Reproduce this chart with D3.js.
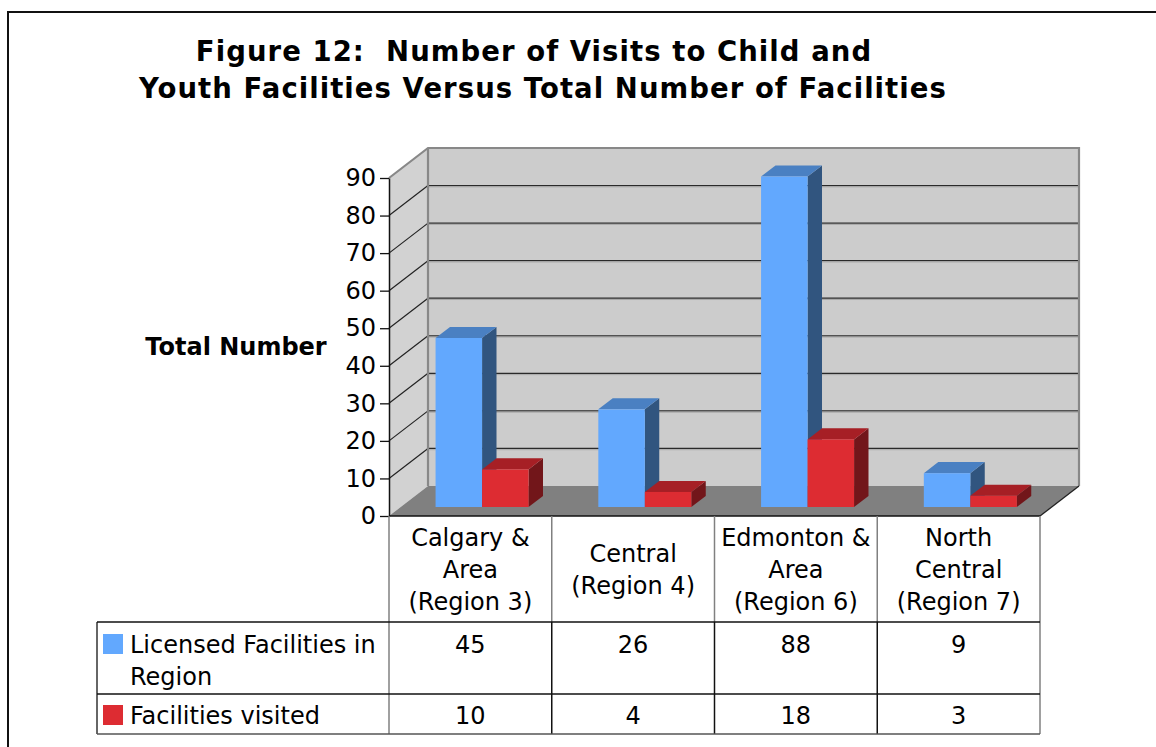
<!DOCTYPE html>
<html>
<head>
<meta charset="utf-8">
<script src="https://cdn.jsdelivr.net/npm/d3@7"></script>
<style>
  html, body { margin: 0; padding: 0; background: #ffffff; }
  svg { display: block; font-family: "DejaVu Sans", Verdana, sans-serif; }
</style>
</head>
<body>
<svg id="chart" width="1156" height="747"></svg>
<script>
// ---- data ----
const categories = ["Calgary &\nArea\n(Region 3)", "Central\n(Region 4)", "Edmonton &\nArea\n(Region 6)", "North\nCentral\n(Region 7)"];
const seriesNames = ["Licensed Facilities in\nRegion", "Facilities visited"];
const licensed = [45, 26, 88, 9];
const visited = [10, 4, 18, 3];
const yTicks = [0, 10, 20, 30, 40, 50, 60, 70, 80, 90];
const titleLines = ["Figure 12:  Number of Visits to Child and", "Youth Facilities Versus Total Number of Facilities"];
const yTitle = "Total Number";

const seriesValues = [licensed, visited];
const palette = [
  { front: "#62a8fe", top: "#4a80c2", side: "#31557f" },
  { front: "#dd2c32", top: "#a61f25", side: "#72161a" }
];
const FONT_SIZE = 24;

// ---- layout ----
const svg = d3.select("#chart");
const plotLeft = 389, plotRight = 1040, floorY = 516, topY = 178;
const DX = 39, DY = 30;            // perspective offset of the back wall
const barNear = 0.3, barFar = 0.67; // bar depth as a fraction of the floor depth

const x0 = d3.scaleBand().domain(categories).range([plotLeft, plotRight])
  .paddingInner(0.4286).paddingOuter(0.2143);
const x1 = d3.scaleBand().domain(seriesNames).range([0, x0.bandwidth()]);
const y = d3.scaleLinear().domain([0, 90]).range([floorY, topY]);

// outer frame
svg.append("rect").attr("x", 8).attr("y", 12).attr("width", 1160).attr("height", 760)
  .attr("fill", "none").attr("stroke", "#111").attr("stroke-width", 2);

// title
svg.append("g").selectAll("text").data(titleLines).join("text")
  .attr("x", (d, i) => i === 0 ? 534 : 543)
  .attr("y", (d, i) => 61 + i * 36.5)
  .attr("text-anchor", "middle")
  .attr("font-weight", "bold").attr("font-size", 27.5).attr("letter-spacing", 1.05)
  .attr("fill", "#000")
  .style("white-space", "pre")
  .text(d => d);

// side wall
svg.append("path")
  .attr("d", `M${plotLeft},${y(90)} L${plotLeft + DX},${y(90) - DY} L${plotLeft + DX},${floorY - DY} L${plotLeft},${floorY} Z`)
  .attr("fill", "#d2d2d2");
// back wall
svg.append("rect")
  .attr("x", plotLeft + DX).attr("y", y(90) - DY)
  .attr("width", plotRight - plotLeft).attr("height", floorY - y(90))
  .attr("fill", "#cccccc");
// floor
svg.append("path")
  .attr("d", `M${plotLeft},${floorY} L${plotLeft + DX},${floorY - DY} L${plotRight + DX},${floorY - DY} L${plotRight},${floorY} Z`)
  .attr("fill", "#808080");

// gridlines on back wall and side wall
const gridVals = yTicks.filter(v => v > 0 && v < 90);
const grid = svg.append("g");
grid.selectAll("line.back").data(gridVals).join("line").attr("class", "back")
  .attr("x1", plotLeft + DX).attr("x2", plotRight + DX)
  .attr("y1", v => y(v) - DY).attr("y2", v => y(v) - DY)
  .attr("stroke", "#2a2a2a").attr("stroke-width", 1.2);
grid.selectAll("line.backhi").data(gridVals).join("line").attr("class", "backhi")
  .attr("x1", plotLeft + DX).attr("x2", plotRight + DX)
  .attr("y1", v => y(v) - DY + 1.3).attr("y2", v => y(v) - DY + 1.3)
  .attr("stroke", "#a8a8a8").attr("stroke-width", 1);
grid.selectAll("line.side").data(gridVals).join("line").attr("class", "side")
  .attr("x1", plotLeft).attr("x2", plotLeft + DX)
  .attr("y1", v => y(v)).attr("y2", v => y(v) - DY)
  .attr("stroke", "#222").attr("stroke-width", 1.2);

// wall borders
svg.append("path")
  .attr("d", `M${plotLeft},${y(90)} L${plotLeft + DX},${y(90) - DY} L${plotRight + DX},${y(90) - DY} L${plotRight + DX},${floorY - DY}`)
  .attr("fill", "none").attr("stroke", "#888").attr("stroke-width", 2.2);
svg.append("line")
  .attr("x1", plotLeft + DX).attr("x2", plotLeft + DX)
  .attr("y1", y(90) - DY).attr("y2", floorY - DY)
  .attr("stroke", "#888").attr("stroke-width", 2.2);
svg.append("line")
  .attr("x1", plotRight).attr("y1", floorY).attr("x2", plotRight + DX).attr("y2", floorY - DY)
  .attr("stroke", "#222").attr("stroke-width", 1.3);

// 3D bars
const bars = [];
categories.forEach((c, ci) => {
  seriesNames.forEach((s, si) => {
    bars.push({ c, s, si, v: seriesValues[si][ci] });
  });
});
const ox = barNear * DX, oy = -barNear * DY;
const dx = (barFar - barNear) * DX, dy = (barFar - barNear) * DY;
const barG = svg.append("g").selectAll("g").data(bars).join("g");
barG.each(function (d) {
  const g = d3.select(this);
  const xl = x0(d.c) + x1(d.s) + ox;
  const xr = xl + x1.bandwidth();
  const yb = y(0) + oy, yt = y(d.v) + oy;
  const col = palette[d.si];
  g.append("path") // side face
    .attr("d", `M${xr},${yt} L${xr + dx},${yt - dy} L${xr + dx},${yb - dy} L${xr},${yb} Z`)
    .attr("fill", col.side);
  g.append("path") // top face
    .attr("d", `M${xl},${yt} L${xl + dx},${yt - dy} L${xr + dx},${yt - dy} L${xr},${yt} Z`)
    .attr("fill", col.top);
  g.append("rect") // front face
    .attr("x", xl).attr("y", yt).attr("width", xr - xl).attr("height", yb - yt)
    .attr("fill", col.front);
});

// y axis
const axis = svg.append("g").attr("transform", `translate(${plotLeft},0)`)
  .call(d3.axisLeft(y).tickValues(yTicks).tickSize(9).tickSizeOuter(0).tickPadding(4));
axis.select(".domain").attr("stroke", "#111").attr("stroke-width", 1.5);
axis.selectAll(".tick line").attr("stroke", "#111").attr("stroke-width", 1.3);
axis.selectAll(".tick text").attr("font-size", FONT_SIZE).attr("fill", "#000")
  .attr("font-family", "DejaVu Sans, Verdana, sans-serif");

// floor front edge
svg.append("line").attr("x1", plotLeft).attr("x2", plotRight).attr("y1", floorY).attr("y2", floorY)
  .attr("stroke", "#111").attr("stroke-width", 1.5);

// axis title
svg.append("text").attr("x", 236).attr("y", 355).attr("text-anchor", "middle")
  .attr("font-weight", "bold").attr("font-size", FONT_SIZE).text(yTitle);

// ---- data table ----
const tableLeft = 97, headBottom = 622, row1Bottom = 694, row2Bottom = 734;
const table = svg.append("g");
const step = x0.step();

// header vertical lines
table.selectAll("line.hv").data(d3.range(categories.length + 1)).join("line").attr("class", "hv")
  .attr("x1", i => plotLeft + i * step).attr("x2", i => plotLeft + i * step)
  .attr("y1", floorY).attr("y2", headBottom)
  .attr("stroke", "#808080").attr("stroke-width", 1.5);
// body vertical lines
table.selectAll("line.bv").data(d3.range(categories.length + 1)).join("line").attr("class", "bv")
  .attr("x1", i => plotLeft + i * step).attr("x2", i => plotLeft + i * step)
  .attr("y1", headBottom).attr("y2", row2Bottom)
  .attr("stroke", (d, i) => (i === 0 || i === categories.length) ? "#808080" : "#111")
  .attr("stroke-width", 1.5);
table.append("line").attr("x1", tableLeft).attr("x2", tableLeft).attr("y1", headBottom).attr("y2", row2Bottom)
  .attr("stroke", "#333").attr("stroke-width", 1.5);
table.selectAll("line.h").data([headBottom, row1Bottom, row2Bottom]).join("line").attr("class", "h")
  .attr("x1", tableLeft).attr("x2", plotRight).attr("y1", d => d).attr("y2", d => d)
  .attr("stroke", (d, i) => i === 2 ? "#555" : "#111").attr("stroke-width", 1.5);

// category labels
table.selectAll("text.cat").data(categories).join("text").attr("class", "cat")
  .attr("text-anchor", "middle").attr("font-size", FONT_SIZE).attr("fill", "#000")
  .each(function (c) {
    const lines = c.split("\n");
    d3.select(this).selectAll("tspan").data(lines).join("tspan")
      .attr("x", plotLeft + categories.indexOf(c) * step + step / 2)
      .attr("y", (l, i) => 578 + (i - (lines.length - 1) / 2) * 32)
      .text(l => l);
  });

// legend cells and values
const rowBase = [653, 724];
seriesNames.forEach((s, si) => {
  table.append("rect").attr("x", 103).attr("y", rowBase[si] - 19).attr("width", 20).attr("height", 20)
    .attr("fill", palette[si].front);
  const t = table.append("text").attr("font-size", FONT_SIZE).attr("fill", "#000");
  s.split("\n").forEach((l, li) => {
    t.append("tspan").attr("x", 130).attr("y", rowBase[si] + li * 32).text(l);
  });
  table.selectAll(`text.v${si}`).data(seriesValues[si]).join("text").attr("class", `v${si}`)
    .attr("x", (v, ci) => plotLeft + ci * step + step / 2)
    .attr("y", rowBase[si])
    .attr("text-anchor", "middle").attr("font-size", FONT_SIZE).attr("fill", "#000")
    .text(v => v);
});
</script>
</body>
</html>
